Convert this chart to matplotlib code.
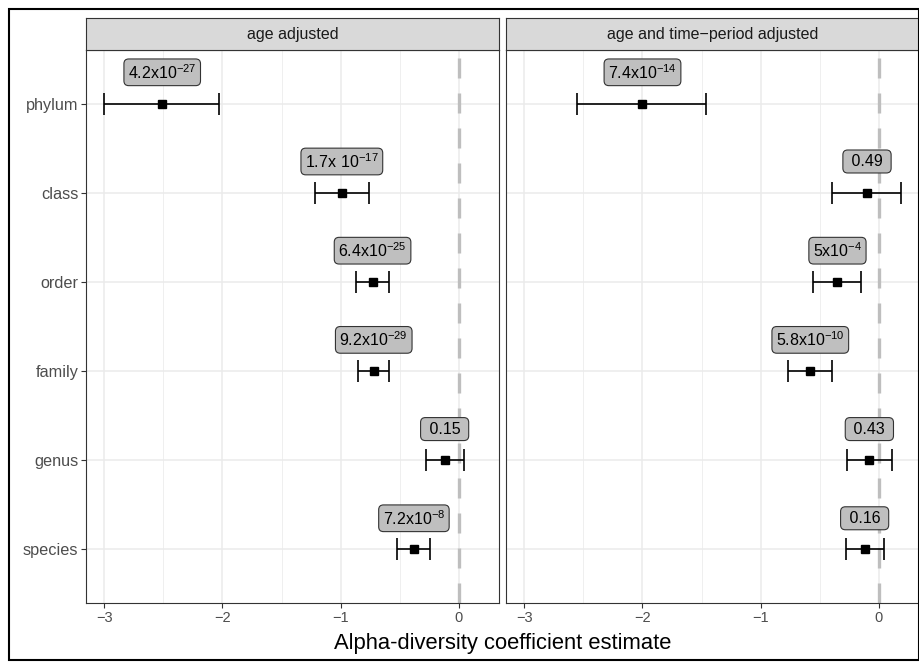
import matplotlib.pyplot as plt
from matplotlib.patches import Rectangle

plt.rcParams['font.family'] = ['Liberation Sans', 'DejaVu Sans']
plt.rcParams['mathtext.default'] = 'regular'

# data
taxa = ["phylum", "class", "order", "family", "genus", "species"]
panels = ["age adjusted", "age and time\u2212period adjusted"]

age_est = [-2.51, -0.99, -0.73, -0.72, -0.12, -0.38]
age_lo = [-3.00, -1.22, -0.87, -0.85, -0.28, -0.52]
age_hi = [-2.03, -0.76, -0.59, -0.59, 0.04, -0.245]
age_p = ["4.2x10^-27", "1.7x 10^-17", "6.4x10^-25", "9.2x10^-29", "0.15", "7.2x10^-8"]

time_est = [-2.00, -0.10, -0.35, -0.58, -0.08, -0.12]
time_lo = [-2.55, -0.395, -0.555, -0.77, -0.27, -0.28]
time_hi = [-1.46, 0.19, -0.155, -0.40, 0.11, 0.045]
time_p = ["7.4x10^-14", "0.49", "5x10^-4", "5.8x10^-10", "0.43", "0.16"]

xticks = [-3, -2, -1, 0]
xminor = [-2.5, -1.5, -0.5]


def fmt(s):
    # "4.2x10^-27" -> mathtext with superscript
    if "^" not in s:
        return " " + s + " "
    base, ex = s.split("^")
    base = base.replace(" ", r"\ ")
    return r"$\mathregular{" + base + "^{" + ex + "}}$"


W, H = 920, 662
fig = plt.figure(figsize=(W / 100, H / 100), dpi=100)

ypos = list(range(len(taxa), 0, -1))
data = [(age_est, age_lo, age_hi, age_p), (time_est, time_lo, time_hi, time_p)]
lefts = [86, 506]
pw = 413
top, bot = 50, 603
strip_top = 18

for i, (est, lo, hi, plab) in enumerate(data):
    ax = fig.add_axes([lefts[i] / W, (H - bot) / H, pw / W, (bot - top) / H])
    ax.set_xlim(-3.155, 0.34)
    ax.set_ylim(0.4, 6.6)
    ax.set_xticks(xticks)
    ax.set_xticks(xminor, minor=True)
    ax.set_yticks(ypos)
    ax.grid(True, which="major", color="#EBEBEB", lw=1.1, zorder=0)
    ax.grid(True, which="minor", axis="x", color="#EBEBEB", lw=0.55, zorder=0)
    ax.set_axisbelow(True)
    for sp in ax.spines.values():
        sp.set_color("#333333")
        sp.set_linewidth(0.8)
    ax.tick_params(which="minor", length=0)
    ax.tick_params(axis="x", which="major", length=3.4, width=0.8, color="#333333",
                   labelsize=10.5, labelcolor="#4D4D4D", pad=2.5)
    if i == 0:
        ax.set_yticklabels(taxa)
        ax.tick_params(axis="y", length=3.4, width=0.8, color="#333333",
                       labelsize=11.7, labelcolor="#4D4D4D", pad=2)
    else:
        ax.tick_params(axis="y", length=0, labelleft=False)

    ax.axvline(0, color="#BEBEBE", lw=2.4, dashes=(6, 4.5), zorder=1)

    xerr = [[e - l for e, l in zip(est, lo)], [h - e for e, h in zip(est, hi)]]
    ax.errorbar(est, ypos, xerr=xerr, fmt="s", color="black", ms=6,
                elinewidth=1.2, capsize=8, capthick=1.2, zorder=3)

    for e, y, s in zip(est, ypos, plab):
        ax.text(e, y + 0.35, fmt(s), ha="center", va="center", fontsize=11.5,
                color="black", zorder=4,
                bbox=dict(boxstyle="round,pad=0.25,rounding_size=0.3",
                          fc="#BFBFBF", ec="#333333", lw=0.8))

    # facet strip
    sax = fig.add_axes([lefts[i] / W, (H - top) / H, pw / W, (top - strip_top) / H])
    sax.set_facecolor("#D9D9D9")
    sax.set_xticks([])
    sax.set_yticks([])
    for sp in sax.spines.values():
        sp.set_color("#333333")
        sp.set_linewidth(0.8)
    sax.text(0.5, 0.5, panels[i], ha="center", va="center", fontsize=11.5,
             color="#1A1A1A", transform=sax.transAxes)

fig.text((86 + 919) / 2 / W, 1 - 643 / H, "Alpha-diversity coefficient estimate",
         ha="center", va="center", fontsize=15.8, color="black")

fig.patches.append(Rectangle((9 / W, 2 / H), 910 / W, (660 - 8.5) / H,
                             transform=fig.transFigure, fill=False,
                             ec="black", lw=1.5))

fig.savefig("out.png", dpi=100)
